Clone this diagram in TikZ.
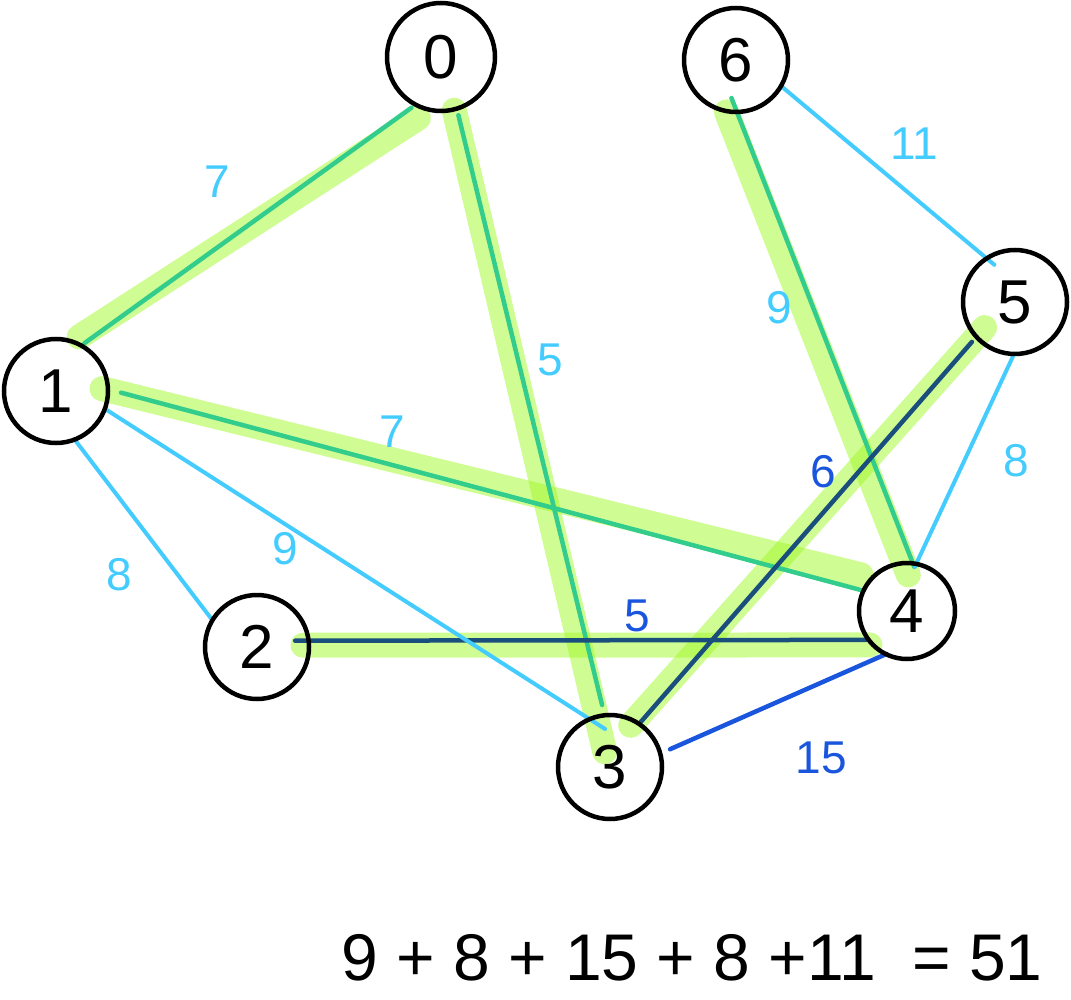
\documentclass[tikz,border=0pt]{standalone}
\usepackage{fontspec}
\setmainfont{Liberation Sans}
\usetikzlibrary{backgrounds}
\definecolor{hlgreen}{RGB}{161,249,41}
\definecolor{tealline}{RGB}{50,204,140}
\definecolor{lightblue}{RGB}{68,204,255}
\definecolor{navyline}{RGB}{25,78,125}
\definecolor{midblue}{RGB}{26,85,221}
\begin{document}
\begin{tikzpicture}[x=1pt,y=-1pt,
  vtx/.style={circle,draw=black,line width=4.5pt,inner sep=0pt,outer sep=0pt,minimum size=104pt,font=\fontsize{62}{62}\selectfont},
  hlpath/.style={draw=hlgreen,line width=25pt,line cap=round,opacity=0.5},
  tealedge/.style={draw=tealline,line width=4.5pt,line cap=round},
  navyedge/.style={draw=navyline,line width=4.5pt,line cap=round},
  lbedge/.style={draw=lightblue,line width=4pt,line cap=round},
  dbedge/.style={draw=midblue,line width=4.5pt,line cap=round},
  wlabel/.style={font=\fontsize{46}{46}\selectfont,inner sep=0pt},
]
\useasboundingbox (0,0) rectangle (1071,1000);

\node[vtx,minimum size=108pt] (n0) at (441,57) {0};
\node[vtx] (n6) at (736,60) {6};
\node[vtx] (n5) at (1015,302) {5};
\node[vtx] (n1) at (56,391) {1};
\node[vtx] (n2) at (257,647) {2};
\node[vtx] (n3) at (610,767) {3};
\node[vtx,minimum size=96pt] (n4) at (907,611) {4};

\begin{scope}[on background layer]
% highlighted tree edges
\draw[hlpath,shorten <=8.3pt,shorten >=14.6pt] (n1.72) -- (n0.259.5);
\draw[hlpath,shorten <=0.8pt,shorten >=-36pt] (n0.284.8) -- (n3.105.7);
\draw[hlpath,shorten <=0.9pt,shorten >=-12.7pt] (n6.259.7) -- (n4.94.3);
\draw[hlpath,shorten <=-6.2pt,shorten >=11.7pt] (n1.1.7) -- (n4.136.3);
\draw[hlpath,shorten <=-6pt,shorten >=3.1pt] (n2.2.2) -- (n4.225.1);
\draw[hlpath,shorten <=-5.7pt,shorten >=-12.4pt] (n3.62.7) -- (n5.222.6);
% edges
\draw[tealedge,shorten <=3.9pt,shorten >=5.2pt] (n1.61.5) -- (n0.242.7);
\draw[tealedge,shorten <=6.75pt,shorten >=10.6pt] (n0.287.7) -- (n3.96.1);
\draw[tealedge,shorten <=-15pt,shorten >=-3.9pt] (n6.271.5) -- (n4.83.3);
\draw[tealedge,shorten <=13.5pt,shorten >=0.3pt] (n1.2.8) -- (n4.155.5);
\draw[navyedge,shorten <=-13.5pt,shorten >=2.75pt] (n2.7.7) -- (n4.217.2);
\draw[navyedge,shorten <=2.1pt,shorten >=6.8pt] (n3.56.6) -- (n5.222.2);
\draw[lbedge,shorten <=-0.5pt,shorten >=-10pt] (n6.330.9) -- (n5.123.4);
\draw[lbedge,shorten <=3.3pt,shorten >=-3.6pt] (n5.269.3) -- (n4.79.8);
\draw[lbedge,shorten <=-0.4pt,shorten >=2pt] (n1.291.7) -- (n2.149.5);
\draw[lbedge,shorten >=-18.2pt] (n1.340.9) -- (n3.113);
\draw[dbedge,shorten <=10.7pt,shorten >=-0.7pt] (n3.15.3) -- (n4.244.4);
\end{scope}

% weights
\node[wlabel,text=lightblue] (w10) at (217,182) {7};
\node[wlabel,text=lightblue] (w03) at (550,360) {5};
\node[wlabel,text=lightblue] (w64) at (779,308) {9};
\node[wlabel,text=lightblue] (w14) at (392,432) {7};
\node[wlabel,text=midblue] (w24) at (637,616) {5};
\node[wlabel,text=midblue] (w35) at (823,472) {6};
\node[wlabel,text=lightblue] (w65) at (914,144) {11};
\node[wlabel,text=lightblue] (w54) at (1016,461) {8};
\node[wlabel,text=lightblue] (w12) at (119,575) {8};
\node[wlabel,text=lightblue] (w13) at (285,549) {9};
\node[wlabel,text=midblue] (w34) at (821,758) {15};

% total
\node[inner sep=0pt,font=\fontsize{66}{66}\selectfont] (total) at (692,958) {9 + 8 + 15 + 8 +11 \ = 51};
\end{tikzpicture}
\end{document}
